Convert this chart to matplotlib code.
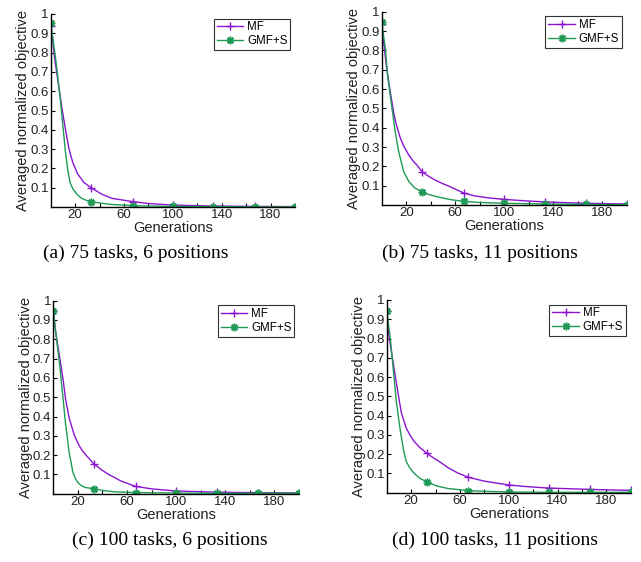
import matplotlib.pyplot as plt

# -----------------------------
# Data
# -----------------------------
# (a) 75 tasks, 6 positions
mf_x_a = [0, 1, 3, 6, 9, 12, 15, 18, 22, 27, 33, 42, 50, 67, 80, 100, 133, 167, 200]
mf_a = [0.94, 0.90, 0.78, 0.65, 0.52, 0.405, 0.30, 0.232, 0.172, 0.128, 0.10, 0.066, 0.045,
        0.028, 0.018, 0.010, 0.005, 0.003, 0.002]
gmf_x_a = [0, 2, 5, 8, 10, 12, 14, 16, 18, 20, 22, 25, 29, 33, 42, 50, 67, 80, 100, 133, 167, 200]
gmf_a = [0.955, 0.865, 0.72, 0.55, 0.42, 0.29, 0.19, 0.125, 0.095, 0.078, 0.062, 0.046, 0.035,
         0.028, 0.019, 0.013, 0.007, 0.005, 0.003, 0.002, 0.001, 0.001]

# (b) 75 tasks, 11 positions
mf_x_b = [0, 1, 2, 4, 7, 10, 12, 15, 18, 22, 26, 29, 33, 38, 43, 50, 55, 67, 76, 88, 100,
          116, 133, 150, 167, 200]
mf_b = [0.937, 0.87, 0.82, 0.71, 0.585, 0.47, 0.415, 0.35, 0.305, 0.26, 0.225, 0.205, 0.171,
        0.15, 0.131, 0.11, 0.097, 0.062, 0.047, 0.036, 0.029, 0.022, 0.016, 0.012, 0.009, 0.005]
gmf_x_b = [0, 3, 5, 8, 11, 14, 18, 22, 27, 33, 38, 44, 50, 57, 67, 80, 100, 133, 167, 200]
gmf_b = [0.945, 0.81, 0.66, 0.52, 0.38, 0.272, 0.172, 0.123, 0.088, 0.068, 0.055, 0.045, 0.036,
         0.027, 0.019, 0.013, 0.009, 0.005, 0.003, 0.002]

# (c) 100 tasks, 6 positions
mf_x_c = [0, 2, 5, 8, 10, 13, 17, 20, 23, 28, 33, 39, 45, 55, 67, 80, 100, 133, 167, 200]
mf_c = [0.947, 0.834, 0.713, 0.59, 0.49, 0.39, 0.305, 0.262, 0.228, 0.19, 0.155, 0.125, 0.10,
        0.066, 0.038, 0.025, 0.014, 0.008, 0.005, 0.004]
gmf_x_c = [0, 2, 5, 8, 10, 13, 16, 18, 20, 23, 26, 33, 42, 50, 67, 100, 133, 167, 200]
gmf_c = [0.947, 0.834, 0.679, 0.49, 0.36, 0.21, 0.11, 0.078, 0.058, 0.041, 0.032, 0.026, 0.015,
         0.010, 0.006, 0.003, 0.002, 0.002, 0.002]

# (d) 100 tasks, 11 positions
mf_x_d = [0, 1, 4, 7, 10, 12, 16, 19, 22, 27, 33, 38, 44, 50, 58, 67, 80, 100, 116, 133, 167, 200]
mf_d = [0.943, 0.85, 0.727, 0.606, 0.49, 0.415, 0.335, 0.30, 0.27, 0.235, 0.204, 0.182, 0.158,
        0.131, 0.103, 0.080, 0.060, 0.040, 0.031, 0.024, 0.017, 0.012]
gmf_x_d = [0, 3, 5, 8, 11, 14, 16, 19, 22, 27, 33, 41, 50, 67, 80, 100, 133, 167, 200]
gmf_d = [0.943, 0.80, 0.665, 0.467, 0.329, 0.215, 0.162, 0.128, 0.104, 0.075, 0.056, 0.035,
         0.022, 0.011, 0.007, 0.004, 0.002, 0.002, 0.002]

captions = ["(a) 75 tasks, 6 positions", "(b) 75 tasks, 11 positions",
            "(c) 100 tasks, 6 positions", "(d) 100 tasks, 11 positions"]

marker_gens = [0, 33, 67, 100, 133, 167, 200]

purple = "#8a14d2"
green = "#1f9a55"

W, H = 641, 562
# axes boxes in pixels: left, right, top, bottom
boxes = [(50.7, 295.0, 14.0, 207.0),
         (381.7, 626.7, 11.7, 205.0),
         (53.3, 299.0, 300.7, 493.7),
         (386.7, 630.7, 300.0, 492.7)]
caption_pos = [(136, 253), (480, 253), (170, 540), (495, 540)]

panels = [(mf_x_a, mf_a, gmf_x_a, gmf_a), (mf_x_b, mf_b, gmf_x_b, gmf_b),
          (mf_x_c, mf_c, gmf_x_c, gmf_c), (mf_x_d, mf_d, gmf_x_d, gmf_d)]

plt.rcParams["font.family"] = ["Liberation Sans", "DejaVu Sans"]

fig = plt.figure(figsize=(W / 100, H / 100), dpi=100)

for (mx, mf, gx, gmf), (l, r, t, b), cap, (cx, cy) in zip(panels, boxes, captions, caption_pos):
    ax = fig.add_axes([l / W, 1 - b / H, (r - l) / W, (b - t) / H])
    ax.plot(mx, mf, color=purple, lw=1.0, marker="+", ms=6, mew=1.0,
            markevery=[mx.index(g) for g in marker_gens], label="MF")
    ax.plot(gx, gmf, color=green, lw=1.0, marker=(8, 2, 0), ms=5.5, mew=1.1,
            markevery=[gx.index(g) for g in marker_gens], label="GMF+S")
    ax.set_xlim(0, 200)
    ax.set_ylim(0, 1)
    ax.set_xticks(range(20, 200, 20))
    ax.set_xticklabels(["20", "", "60", "", "100", "", "140", "", "180"])
    ax.set_yticks([0.1, 0.2, 0.3, 0.4, 0.5, 0.6, 0.7, 0.8, 0.9, 1.0])
    ax.set_yticklabels(["0.1", "0.2", "0.3", "0.4", "0.5", "0.6", "0.7", "0.8", "0.9", "1"])
    ax.tick_params(direction="in", length=3, width=0.8, labelsize=9.5, pad=1.5,
                   labelcolor="#222222")
    for s in ["top", "right"]:
        ax.spines[s].set_visible(False)
    for s in ["left", "bottom"]:
        ax.spines[s].set_linewidth(1.0)
    ax.set_xlabel("Generations", fontsize=10.5, labelpad=0, color="#222222")
    ax.set_ylabel("Averaged normalized objective", fontsize=10.5, labelpad=0,
                  color="#222222")
    leg = ax.legend(loc="upper right", fontsize=8.3, fancybox=False, framealpha=1,
                    edgecolor="#333333", borderaxespad=0.4, handlelength=2.3,
                    borderpad=0.25, labelspacing=0.15, handletextpad=0.35)
    leg.get_frame().set_linewidth(0.8)
    fig.text(cx / W, 1 - cy / H, cap, ha="center", va="center",
             family="Liberation Serif", fontsize=14)

fig.savefig("out.png", dpi=100)
